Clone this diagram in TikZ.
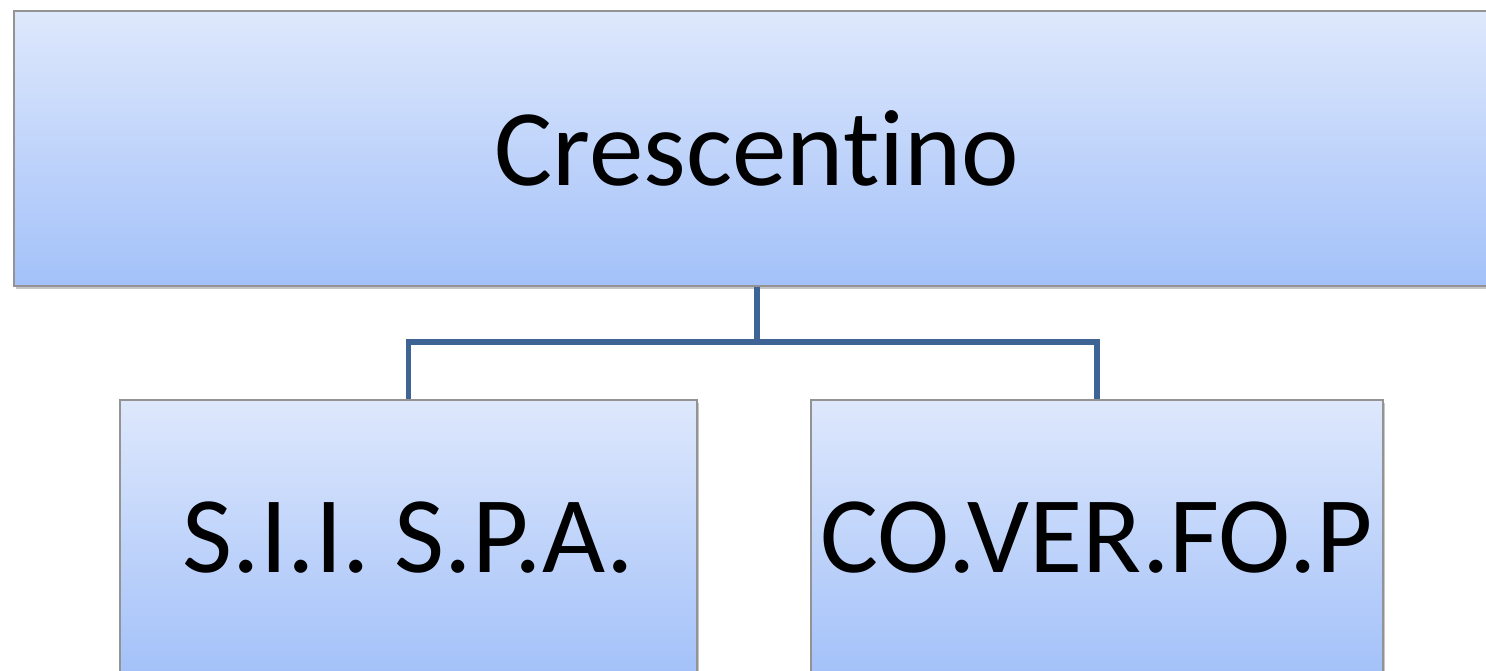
\documentclass[tikz,border=0pt]{standalone}
\usepackage{fontspec}
\setmainfont{Carlito}[Ligatures={NoCommon}]
\usetikzlibrary{shadows}
\definecolor{boxtop}{RGB}{222,232,252}
\definecolor{boxbot}{RGB}{163,193,249}
\definecolor{linkblue}{RGB}{62,100,150}

\begin{document}
\begin{tikzpicture}[
    orgbox/.style={draw=gray!85, line width=0.8pt, top color=boxtop, bottom color=boxbot,
        drop shadow={shadow xshift=1.2pt, shadow yshift=-1.5pt, fill=gray, opacity=0.45},
        minimum height=5.5cm, inner sep=0pt, font=\fontsize{62}{74}\selectfont},
    link/.style={draw=linkblue, line width=3.4pt}
]
        \useasboundingbox (0,0) rectangle (29.72,13.42);
        \clip (0,0) rectangle (29.72,13.42);
        \node[orgbox, minimum width=29.72cm] (crescentino) at (15.14,10.45) {Crescentino};
        \node[orgbox, minimum width=11.54cm] (sii) at (8.17,2.67) {S.I.I. S.P.A.};
        \node[orgbox, minimum width=11.44cm] (coverfop) at (21.94,2.67) {CO.VER.FO.P};
        \coordinate (bus) at (15.14,6.58);
        \draw[link] (crescentino.south) -- (bus);
        \draw[link] (bus) -| (sii.north);
        \draw[link] (bus) -| (coverfop.north);
    \end{tikzpicture}
\end{document}
